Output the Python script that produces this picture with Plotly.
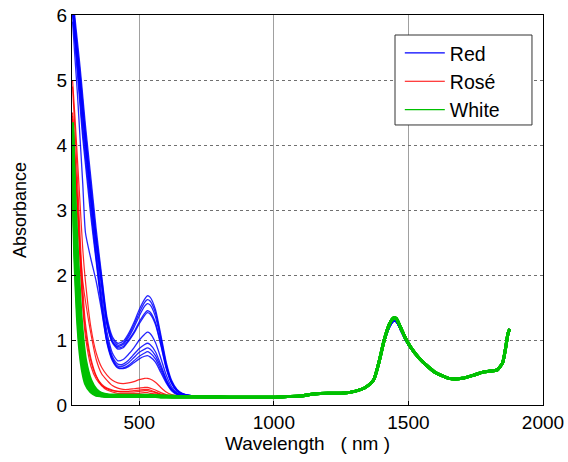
import plotly.graph_objects as go

# Wavelength grids (nm)
wl_uv = [252, 260, 270, 280, 290, 300, 320, 340, 360, 380, 400, 420, 440, 460, 480,
         500, 520, 530, 540, 560, 580, 600, 620, 640, 660, 700, 750, 800, 850, 900]
wl_nir = [950, 1000, 1050, 1100, 1150, 1200, 1250, 1300, 1340, 1370, 1390, 1410, 1430,
          1445, 1455, 1470, 1490, 1510, 1540, 1570, 1600, 1650, 1700, 1750, 1780, 1800,
          1830, 1850, 1860, 1870, 1876]

# Common NIR absorbance (water band) for all wines
nir_common = [0.12, 0.12, 0.13, 0.14, 0.17, 0.18, 0.18, 0.21, 0.27, 0.38, 0.65, 1.0, 1.25,
              1.34, 1.33, 1.2, 1.02, 0.88, 0.72, 0.6, 0.5, 0.41, 0.41, 0.47, 0.51, 0.52,
              0.54, 0.65, 0.85, 1.1, 1.17]
nir_red = [0.12, 0.12, 0.13, 0.14, 0.17, 0.18, 0.18, 0.21, 0.27, 0.37, 0.62, 0.96, 1.2,
           1.29, 1.28, 1.16, 0.99, 0.86, 0.71, 0.59, 0.5, 0.41, 0.41, 0.47, 0.51, 0.52,
           0.54, 0.65, 0.85, 1.1, 1.17]

# Red wines (UV-Vis part)
red_uv = [
    [6.4, 6.0, 5.6, 5.2, 4.75, 4.3, 3.5, 2.7, 2.0, 1.35, 1.05, 0.95, 0.98, 1.1, 1.27, 1.47, 1.63, 1.68, 1.66, 1.47, 1.08, 0.66, 0.38, 0.24, 0.18, 0.14, 0.13, 0.13, 0.12, 0.12],
    [6.3, 5.9, 5.5, 5.1, 4.65, 4.2, 3.4, 2.6, 1.95, 1.3, 1.02, 0.92, 0.95, 1.07, 1.23, 1.42, 1.58, 1.62, 1.6, 1.42, 1.04, 0.63, 0.36, 0.23, 0.17, 0.14, 0.13, 0.12, 0.12, 0.12],
    [6.2, 5.8, 5.4, 5.0, 4.55, 4.1, 3.3, 2.55, 1.9, 1.28, 0.98, 0.88, 0.9, 1.0, 1.12, 1.28, 1.41, 1.45, 1.43, 1.27, 0.94, 0.58, 0.34, 0.22, 0.17, 0.14, 0.13, 0.12, 0.12, 0.12],
    [6.1, 5.7, 5.3, 4.9, 4.45, 4.0, 3.2, 2.5, 1.85, 1.25, 0.96, 0.86, 0.88, 0.98, 1.1, 1.25, 1.38, 1.42, 1.4, 1.24, 0.92, 0.56, 0.33, 0.21, 0.16, 0.14, 0.13, 0.12, 0.12, 0.12],
    [6.3, 5.9, 5.4, 5.0, 4.5, 4.1, 3.2, 2.4, 1.7, 1.12, 0.8, 0.68, 0.7, 0.78, 0.88, 1.0, 1.09, 1.12, 1.1, 0.96, 0.72, 0.46, 0.28, 0.19, 0.15, 0.13, 0.12, 0.12, 0.12, 0.12],
    [6.2, 5.8, 5.3, 4.8, 4.3, 3.9, 3.1, 2.3, 1.6, 1.05, 0.75, 0.63, 0.63, 0.69, 0.78, 0.87, 0.93, 0.95, 0.93, 0.82, 0.62, 0.4, 0.25, 0.18, 0.14, 0.13, 0.12, 0.12, 0.12, 0.12],
    [6.1, 5.7, 5.2, 4.7, 4.2, 3.8, 3.0, 2.25, 1.55, 1.0, 0.72, 0.6, 0.6, 0.65, 0.73, 0.81, 0.86, 0.88, 0.86, 0.76, 0.58, 0.38, 0.24, 0.17, 0.14, 0.13, 0.12, 0.12, 0.12, 0.12],
    [6.0, 5.6, 5.1, 4.6, 4.1, 3.7, 2.9, 2.2, 1.5, 0.97, 0.7, 0.58, 0.57, 0.61, 0.68, 0.75, 0.8, 0.82, 0.8, 0.71, 0.54, 0.36, 0.23, 0.17, 0.14, 0.13, 0.12, 0.12, 0.12, 0.12],
    [5.9, 5.4, 4.8, 4.1, 3.4, 2.65, 2.25, 1.9, 1.45, 0.95, 0.68, 0.57, 0.56, 0.59, 0.65, 0.71, 0.75, 0.76, 0.74, 0.66, 0.5, 0.34, 0.22, 0.16, 0.14, 0.13, 0.12, 0.12, 0.12, 0.12],
    [6.2, 5.8, 5.4, 4.95, 4.5, 4.05, 3.25, 2.5, 1.85, 1.25, 0.97, 0.9, 0.93, 1.04, 1.19, 1.37, 1.52, 1.56, 1.54, 1.36, 1.0, 0.6, 0.35, 0.22, 0.17, 0.14, 0.13, 0.12, 0.12, 0.12],
]

# Rosé wines (UV-Vis part)
rose_uv = [
    [5.0, 4.5, 3.8, 3.1, 2.4, 1.9, 1.2, 0.8, 0.58, 0.46, 0.38, 0.34, 0.33, 0.34, 0.36, 0.39, 0.41, 0.41, 0.4, 0.35, 0.27, 0.2, 0.16, 0.14, 0.13, 0.13, 0.12, 0.12, 0.12, 0.12],
    [4.45, 3.9, 3.2, 2.4, 1.9, 1.6, 1.1, 0.7, 0.48, 0.38, 0.3, 0.26, 0.24, 0.24, 0.25, 0.26, 0.27, 0.27, 0.26, 0.23, 0.19, 0.16, 0.14, 0.13, 0.13, 0.12, 0.12, 0.12, 0.12, 0.12],
    [4.4, 3.8, 3.0, 2.2, 1.5, 1.05, 0.6, 0.4, 0.3, 0.25, 0.22, 0.21, 0.21, 0.21, 0.22, 0.23, 0.24, 0.24, 0.23, 0.2, 0.17, 0.15, 0.13, 0.13, 0.12, 0.12, 0.12, 0.12, 0.12, 0.12],
    [4.5, 3.9, 3.1, 2.3, 1.6, 1.15, 0.68, 0.44, 0.32, 0.26, 0.23, 0.21, 0.2, 0.2, 0.2, 0.21, 0.22, 0.22, 0.21, 0.19, 0.16, 0.14, 0.13, 0.13, 0.12, 0.12, 0.12, 0.12, 0.12, 0.12],
    [4.9, 4.3, 3.5, 2.6, 1.8, 1.25, 0.72, 0.45, 0.3, 0.23, 0.2, 0.18, 0.18, 0.18, 0.18, 0.18, 0.19, 0.19, 0.18, 0.17, 0.15, 0.14, 0.13, 0.12, 0.12, 0.12, 0.12, 0.12, 0.12, 0.12],
]

# White wines (UV-Vis part)
white_uv = [
    [4.35, 3.0, 2.0, 1.3, 0.85, 0.55, 0.3, 0.2, 0.17, 0.15, 0.14, 0.14, 0.14, 0.14, 0.14, 0.14, 0.14, 0.14, 0.14, 0.14, 0.13, 0.13, 0.13, 0.13, 0.13, 0.13, 0.13, 0.12, 0.12, 0.12],
    [4.0, 2.7, 1.7, 1.05, 0.68, 0.45, 0.26, 0.18, 0.15, 0.14, 0.14, 0.14, 0.14, 0.14, 0.14, 0.14, 0.14, 0.14, 0.14, 0.13, 0.13, 0.13, 0.13, 0.13, 0.13, 0.13, 0.12, 0.12, 0.12, 0.12],
    [4.2, 3.1, 2.2, 1.45, 0.95, 0.62, 0.34, 0.22, 0.17, 0.15, 0.15, 0.15, 0.14, 0.14, 0.14, 0.14, 0.14, 0.14, 0.14, 0.14, 0.14, 0.13, 0.13, 0.13, 0.13, 0.13, 0.13, 0.12, 0.12, 0.12],
    [3.8, 2.5, 1.5, 0.9, 0.58, 0.38, 0.22, 0.16, 0.14, 0.13, 0.13, 0.13, 0.13, 0.13, 0.13, 0.13, 0.13, 0.13, 0.13, 0.13, 0.13, 0.13, 0.12, 0.12, 0.12, 0.12, 0.12, 0.12, 0.12, 0.12],
    [4.3, 3.3, 2.4, 1.6, 1.05, 0.7, 0.38, 0.24, 0.18, 0.16, 0.15, 0.15, 0.15, 0.15, 0.15, 0.15, 0.15, 0.15, 0.15, 0.14, 0.14, 0.14, 0.14, 0.13, 0.13, 0.13, 0.13, 0.13, 0.12, 0.12],
    [3.6, 2.3, 1.35, 0.8, 0.5, 0.33, 0.2, 0.15, 0.14, 0.13, 0.13, 0.13, 0.13, 0.13, 0.13, 0.13, 0.13, 0.13, 0.13, 0.13, 0.12, 0.12, 0.12, 0.12, 0.12, 0.12, 0.12, 0.12, 0.12, 0.12],
    [4.1, 2.9, 1.85, 1.2, 0.78, 0.5, 0.28, 0.19, 0.16, 0.15, 0.14, 0.14, 0.14, 0.14, 0.14, 0.14, 0.14, 0.14, 0.14, 0.14, 0.13, 0.13, 0.13, 0.13, 0.13, 0.13, 0.13, 0.12, 0.12, 0.12],
    [3.9, 2.6, 1.6, 1.0, 0.64, 0.42, 0.24, 0.17, 0.15, 0.14, 0.14, 0.14, 0.14, 0.14, 0.14, 0.14, 0.14, 0.14, 0.14, 0.13, 0.13, 0.13, 0.13, 0.13, 0.13, 0.13, 0.12, 0.12, 0.12, 0.12],
]

groups = [
    ("Red", red_uv, nir_red, "#0000ff", 1.3),
    ("Rosé", rose_uv, nir_common, "#ff0000", 1.2),
    ("White", white_uv, nir_common, "#00c000", 3.0),
]

fig = go.Figure()
for name, uv_list, nir, color, width in groups:
    for uv in uv_list:
        fig.add_trace(go.Scatter(
            x=wl_uv + wl_nir, y=uv + nir, mode="lines",
            line=dict(color=color, width=width, shape="spline", smoothing=0.6),
            name=name, legendgroup=name, showlegend=False,
            opacity=0.85 if name != "White" else 1.0,
        ))

# Legend entries (thin lines, as in the original)
for name, _, _, color, _ in groups:
    fig.add_trace(go.Scatter(
        x=[None], y=[None], mode="lines",
        line=dict(color=color, width=1.2),
        name=name, legendgroup=name, showlegend=True,
    ))

font = "Liberation Sans, Arial, sans-serif"
fig.update_layout(
    width=568, height=462,
    margin=dict(l=72, r=25, t=15, b=57),
    paper_bgcolor="white", plot_bgcolor="white",
    font=dict(family=font, size=18, color="black"),
    showlegend=True,
    legend=dict(
        x=0.696, y=0.952, xanchor="left", yanchor="top",
        bgcolor="rgba(0,0,0,0)", borderwidth=0,
        font=dict(size=19.5, family=font), tracegroupgap=0,
        itemwidth=40,
    ),
    shapes=[dict(
        type="rect", xref="paper", yref="paper",
        x0=0.6858, x1=0.9766, y0=0.718, y1=0.9487,
        fillcolor="white", line=dict(color="#333333", width=1), layer="above",
    )],
    xaxis=dict(
        range=[250, 2000], tickvals=[500, 1000, 1500, 2000],
        showgrid=True, gridcolor="#a0a0a0", griddash="solid", gridwidth=1,
        showline=True, linecolor="black", linewidth=1, mirror=True,
        ticks="inside", ticklen=4, tickcolor="black",
        zeroline=False, automargin=False,
        title=dict(text="Wavelength   ( nm )", font=dict(size=19), standoff=4),
        tickfont=dict(size=19),
    ),
    yaxis=dict(
        range=[0, 6], dtick=1,
        showgrid=True, gridcolor="#707070", griddash="dot", gridwidth=1,
        showline=True, linecolor="black", linewidth=1, mirror=True,
        ticks="inside", ticklen=4, tickcolor="black",
        zeroline=False, automargin=False,
        title=dict(text="Absorbance", font=dict(size=18), standoff=25),
        tickfont=dict(size=19),
    ),
)

fig.write_html("out.html")
